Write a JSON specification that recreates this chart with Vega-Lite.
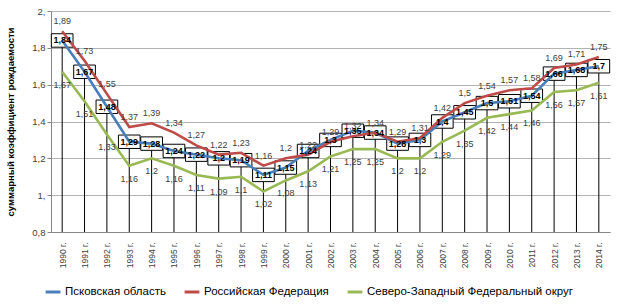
{
  "$schema": "https://vega.github.io/schema/vega-lite/v6.json",
  "width": 559,
  "height": 221,
  "autosize": {"type": "none"},
  "padding": {"left": 51, "top": 11, "right": 13, "bottom": 75},
  "background": "white",
  "config": {
    "locale": {"number": {"decimal": ",", "thousands": " ", "grouping": [3], "currency": ["", " ₽"]}},
    "font": "Liberation Sans",
    "view": {"stroke": null},
    "axis": {"labelFont": "Liberation Sans", "titleFont": "Liberation Sans"}
  },
  "data": {
    "values": [
      {"year": 1990, "series": "Псковская область", "value": 1.84},
      {"year": 1991, "series": "Псковская область", "value": 1.67},
      {"year": 1992, "series": "Псковская область", "value": 1.48},
      {"year": 1993, "series": "Псковская область", "value": 1.29},
      {"year": 1994, "series": "Псковская область", "value": 1.28},
      {"year": 1995, "series": "Псковская область", "value": 1.24},
      {"year": 1996, "series": "Псковская область", "value": 1.22},
      {"year": 1997, "series": "Псковская область", "value": 1.2},
      {"year": 1998, "series": "Псковская область", "value": 1.19},
      {"year": 1999, "series": "Псковская область", "value": 1.11},
      {"year": 2000, "series": "Псковская область", "value": 1.15},
      {"year": 2001, "series": "Псковская область", "value": 1.24},
      {"year": 2002, "series": "Псковская область", "value": 1.3},
      {"year": 2003, "series": "Псковская область", "value": 1.35},
      {"year": 2004, "series": "Псковская область", "value": 1.34},
      {"year": 2005, "series": "Псковская область", "value": 1.28},
      {"year": 2006, "series": "Псковская область", "value": 1.3},
      {"year": 2007, "series": "Псковская область", "value": 1.4},
      {"year": 2008, "series": "Псковская область", "value": 1.45},
      {"year": 2009, "series": "Псковская область", "value": 1.5},
      {"year": 2010, "series": "Псковская область", "value": 1.51},
      {"year": 2011, "series": "Псковская область", "value": 1.54},
      {"year": 2012, "series": "Псковская область", "value": 1.66},
      {"year": 2013, "series": "Псковская область", "value": 1.68},
      {"year": 2014, "series": "Псковская область", "value": 1.7},
      {"year": 1990, "series": "Российская Федерация", "value": 1.89},
      {"year": 1991, "series": "Российская Федерация", "value": 1.73},
      {"year": 1992, "series": "Российская Федерация", "value": 1.55},
      {"year": 1993, "series": "Российская Федерация", "value": 1.37},
      {"year": 1994, "series": "Российская Федерация", "value": 1.39},
      {"year": 1995, "series": "Российская Федерация", "value": 1.34},
      {"year": 1996, "series": "Российская Федерация", "value": 1.27},
      {"year": 1997, "series": "Российская Федерация", "value": 1.22},
      {"year": 1998, "series": "Российская Федерация", "value": 1.23},
      {"year": 1999, "series": "Российская Федерация", "value": 1.16},
      {"year": 2000, "series": "Российская Федерация", "value": 1.2},
      {"year": 2001, "series": "Российская Федерация", "value": 1.22},
      {"year": 2002, "series": "Российская Федерация", "value": 1.29},
      {"year": 2003, "series": "Российская Федерация", "value": 1.32},
      {"year": 2004, "series": "Российская Федерация", "value": 1.34},
      {"year": 2005, "series": "Российская Федерация", "value": 1.29},
      {"year": 2006, "series": "Российская Федерация", "value": 1.31},
      {"year": 2007, "series": "Российская Федерация", "value": 1.42},
      {"year": 2008, "series": "Российская Федерация", "value": 1.5},
      {"year": 2009, "series": "Российская Федерация", "value": 1.54},
      {"year": 2010, "series": "Российская Федерация", "value": 1.57},
      {"year": 2011, "series": "Российская Федерация", "value": 1.58},
      {"year": 2012, "series": "Российская Федерация", "value": 1.69},
      {"year": 2013, "series": "Российская Федерация", "value": 1.71},
      {"year": 2014, "series": "Российская Федерация", "value": 1.75},
      {"year": 1990, "series": "Северо-Западный Федеральный округ", "value": 1.67},
      {"year": 1991, "series": "Северо-Западный Федеральный округ", "value": 1.51},
      {"year": 1992, "series": "Северо-Западный Федеральный округ", "value": 1.33},
      {"year": 1993, "series": "Северо-Западный Федеральный округ", "value": 1.16},
      {"year": 1994, "series": "Северо-Западный Федеральный округ", "value": 1.2},
      {"year": 1995, "series": "Северо-Западный Федеральный округ", "value": 1.16},
      {"year": 1996, "series": "Северо-Западный Федеральный округ", "value": 1.11},
      {"year": 1997, "series": "Северо-Западный Федеральный округ", "value": 1.09},
      {"year": 1998, "series": "Северо-Западный Федеральный округ", "value": 1.1},
      {"year": 1999, "series": "Северо-Западный Федеральный округ", "value": 1.02},
      {"year": 2000, "series": "Северо-Западный Федеральный округ", "value": 1.08},
      {"year": 2001, "series": "Северо-Западный Федеральный округ", "value": 1.13},
      {"year": 2002, "series": "Северо-Западный Федеральный округ", "value": 1.21},
      {"year": 2003, "series": "Северо-Западный Федеральный округ", "value": 1.25},
      {"year": 2004, "series": "Северо-Западный Федеральный округ", "value": 1.25},
      {"year": 2005, "series": "Северо-Западный Федеральный округ", "value": 1.2},
      {"year": 2006, "series": "Северо-Западный Федеральный округ", "value": 1.2},
      {"year": 2007, "series": "Северо-Западный Федеральный округ", "value": 1.29},
      {"year": 2008, "series": "Северо-Западный Федеральный округ", "value": 1.35},
      {"year": 2009, "series": "Северо-Западный Федеральный округ", "value": 1.42},
      {"year": 2010, "series": "Северо-Западный Федеральный округ", "value": 1.44},
      {"year": 2011, "series": "Северо-Западный Федеральный округ", "value": 1.46},
      {"year": 2012, "series": "Северо-Западный Федеральный округ", "value": 1.56},
      {"year": 2013, "series": "Северо-Западный Федеральный округ", "value": 1.57},
      {"year": 2014, "series": "Северо-Западный Федеральный округ", "value": 1.61}
    ]
  },
  "encoding": {
    "x": {
      "field": "year", "type": "ordinal",
      "scale": {"type": "point", "padding": 0.5},
      "axis": {
        "title": null, "labelAngle": 270, "labelExpr": "datum.label + ' г.'",
        "labelFontSize": 8.5, "labelColor": "#404040", "labelPadding": 10,
        "domainColor": "#868686", "ticks": false, "grid": false
      }
    },
    "y": {
      "field": "value", "type": "quantitative",
      "scale": {"domain": [0.8, 2.0], "nice": false, "zero": false},
      "axis": {
        "title": "суммарный коэффициент рождаемости",
        "titleFontSize": 9.5, "titleFontWeight": "bold", "titleColor": "#000000", "titlePadding": 16,
        "values": [0.8, 1, 1.2, 1.4, 1.6, 1.8, 2],
        "format": ".1f",
        "labelExpr": "datum.value == 1 ? '1,' : datum.value == 2 ? '2,' : datum.label",
        "labelFontSize": 9.5, "labelColor": "#404040",
        "domainColor": "#868686", "tickColor": "#868686", "tickSize": 4,
        "gridColor": "#b3b3b3", "gridWidth": 1.2
      }
    }
  },
  "layer": [
    {
      "transform": [{"filter": "datum.series == 'Псковская область'"}],
      "mark": {"type": "rule", "color": "#000000", "strokeWidth": 1},
      "encoding": {"y2": {"datum": 0.8}}
    },
    {
      "transform": [{"filter": "datum.series == 'Псковская область'"}],
      "mark": {
        "type": "point", "shape": "M-1,-0.62H1V0.62H-1Z", "size": 470,
        "filled": true, "fill": "#ffffff", "stroke": "#000000", "strokeWidth": 1, "opacity": 1
      }
    },
    {
      "mark": {"type": "line", "strokeWidth": 2.6},
      "encoding": {
        "color": {
          "field": "series", "type": "nominal",
          "scale": {
            "domain": ["Псковская область", "Российская Федерация", "Северо-Западный Федеральный округ"],
            "range": ["#4a7ebb", "#be4b48", "#98b954"]
          },
          "legend": {
            "title": null, "orient": "none", "direction": "horizontal",
            "legendX": -7, "legendY": 272, "labelLimit": 400,
            "symbolType": "stroke", "symbolStrokeWidth": 3, "symbolSize": 220,
            "labelFontSize": 11.5, "labelColor": "#000000", "columnPadding": 12, "labelOffset": 3
          }
        }
      }
    },
    {
      "transform": [{"filter": "datum.series == 'Российская Федерация'"}],
      "mark": {"type": "text", "dy": -10, "fontSize": 9, "color": "#404040"},
      "encoding": {"text": {"field": "value", "type": "quantitative", "format": ".3~g"}}
    },
    {
      "transform": [{"filter": "datum.series == 'Северо-Западный Федеральный округ'"}],
      "mark": {"type": "text", "dy": 13, "fontSize": 9, "color": "#404040"},
      "encoding": {"text": {"field": "value", "type": "quantitative", "format": ".3~g"}}
    },
    {
      "transform": [{"filter": "datum.series == 'Псковская область'"}],
      "mark": {"type": "text", "fontSize": 9, "fontWeight": "bold", "color": "#000000"},
      "encoding": {"text": {"field": "value", "type": "quantitative", "format": ".3~g"}}
    }
  ]
}
